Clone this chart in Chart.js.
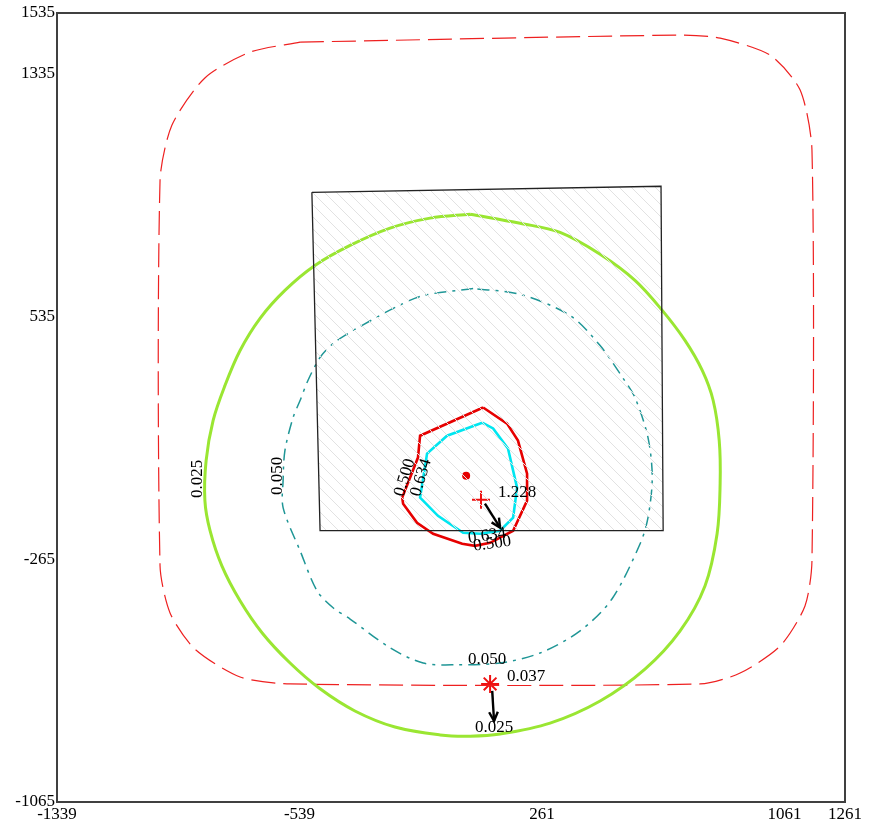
<!DOCTYPE html>
<html>
<head>
<meta charset="utf-8">
<script src="https://cdn.jsdelivr.net/npm/chart.js@4/dist/chart.umd.min.js"></script>
<style>
  html, body { margin: 0; padding: 0; background: #fff; }
  #wrap { width: 870px; height: 825px; position: relative; }
</style>
</head>
<body>
<div id="wrap"><canvas id="c" width="870" height="825"></canvas></div>
<script>
// Axis ticks (metres)
const xTicks = [-1339, -539, 261, 1061, 1261];
const yTicks = [-1065, -265, 535, 1335, 1535];

// Building footprint
const buildingOutline = [[-498, 944], [654, 964], [661, -171], [-471, -171], [-498, 944]];

// Concentration isolines
const iso0025 = [[24,872],[-108,859],[-240,826],[-372,769],[-488,703],[-587,621],[-669,529],[-735,423],[-785,307],[-824,192],[-847,60],[-851,-72],[-834,-171],[-795,-287],[-735,-402],[-662,-508],[-570,-607],[-471,-692],[-356,-765],[-224,-818],[-75,-844],[24,-848],[123,-841],[288,-805],[453,-732],[601,-627],[717,-501],[799,-353],[839,-181],[849,-16],[846,126],[826,258],[790,357],[733,456],[658,555],[568,654],[453,740],[321,812],[189,842],[24,872]];
const iso0050 = [[34,627],[-131,604],[-217,568],[-339,502],[-379,479],[-428,446],[-471,400],[-511,324],[-537,258],[-560,202],[-587,93],[-593,-6],[-593,-95],[-537,-237],[-481,-369],[-428,-425],[-372,-462],[-240,-557],[-131,-607],[-19,-613],[123,-607],[255,-574],[387,-501],[492,-396],[585,-214],[611,-128],[625,4],[611,136],[568,268],[529,331],[453,439],[354,538],[189,608],[34,627]];
const iso0500 = [[67,235],[-141,142],[-148,70],[-200,-62],[-197,-82],[-151,-145],[-98,-181],[-2,-214],[40,-221],[90,-211],[166,-171],[212,-72],[212,17],[182,126],[146,182],[67,235]];
const iso0634 = [[64,185],[-52,142],[-118,83],[-141,-62],[-82,-122],[1,-178],[57,-181],[123,-171],[166,-128],[179,-29],[149,100],[100,166],[64,185]];

// Sanitary protection zone boundary
const zoneBoundary = [[-537,1439],[717,1462],[849,1452],[1014,1396],[1113,1281],[1152,1083],[1152,-270],[1129,-419],[1047,-551],[915,-640],[783,-676],[-570,-676],[-735,-653],[-884,-561],[-966,-442],[-999,-287],[-999,984],[-960,1165],[-851,1321],[-702,1406],[-537,1439]];

// Source position
const sourceX = [11];
const sourceY = [10];

// Maximum points and their values
const maxX = [60, 90];
const maxY = [-69, -676];
const maxValue = [1.228, 0.037];

// Wind direction arrows: start and end
const arrowX0 = [73, 97];
const arrowY0 = [-82, -699];
const arrowX1 = [123, 103];
const arrowY1 = [-161, -798];

// Isoline labels
const labelText = ['0.025', '0.050', '0.500', '0.634', '0.634', '0.500', '0.050', '0.025'];
const labelX = [-874, -613, -191, -138, 80, 97, 80, 103];
const labelY = [0, 10, 4, 4, -188, -214, -594, -821];
const labelAngle = [-90, -90, -73, -73, -8, -8, 0, 0];

const pts = a => a.map(p => ({ x: p[0], y: p[1] }));

function hatchPattern() {
  const s = 12;
  const c = document.createElement('canvas');
  c.width = s; c.height = s;
  const g = c.getContext('2d');
  g.strokeStyle = '#e2e2e2';
  g.lineWidth = 1;
  g.beginPath();
  g.moveTo(0, 0); g.lineTo(s, s);
  g.moveTo(-1, s - 1); g.lineTo(1, s + 1);
  g.moveTo(s - 1, -1); g.lineTo(s + 1, 1);
  g.stroke();
  return g.createPattern(c, 'repeat');
}

const serif = '"Liberation Serif", "Times New Roman", serif';

const overlay = {
  id: 'overlay',
  afterDatasetsDraw(chart) {
    const ctx = chart.ctx;
    const xs = chart.scales.x, ys = chart.scales.y;
    const a = chart.chartArea;
    ctx.save();
    // arrows
    ctx.strokeStyle = '#000';
    for (let i = 0; i < arrowX0.length; i++) {
      const x0 = xs.getPixelForValue(arrowX0[i]), y0 = ys.getPixelForValue(arrowY0[i]);
      const x1 = xs.getPixelForValue(arrowX1[i]), y1 = ys.getPixelForValue(arrowY1[i]);
      const ang = Math.atan2(y1 - y0, x1 - x0);
      ctx.lineWidth = 2.4;
      ctx.beginPath(); ctx.moveTo(x0, y0); ctx.lineTo(x1, y1); ctx.stroke();
      const h = 10, w = 0.45;
      ctx.beginPath();
      ctx.moveTo(x1 - h * Math.cos(ang - w), y1 - h * Math.sin(ang - w));
      ctx.lineTo(x1, y1);
      ctx.lineTo(x1 - h * Math.cos(ang + w), y1 - h * Math.sin(ang + w));
      ctx.stroke();
    }
    // isoline labels
    ctx.fillStyle = '#000';
    ctx.font = '17px ' + serif;
    ctx.textAlign = 'center';
    ctx.textBaseline = 'middle';
    for (let i = 0; i < labelText.length; i++) {
      const px = xs.getPixelForValue(labelX[i]), py = ys.getPixelForValue(labelY[i]);
      ctx.save();
      ctx.translate(px, py);
      ctx.rotate(labelAngle[i] * Math.PI / 180);
      ctx.fillText(labelText[i], 0, 0);
      ctx.restore();
    }
    // maximum value labels
    ctx.textAlign = 'left';
    for (let i = 0; i < maxX.length; i++) {
      const px = xs.getPixelForValue(maxX[i]), py = ys.getPixelForValue(maxY[i]);
      ctx.fillText(maxValue[i].toFixed(3), px + 17, py - 7);
    }
    // frame
    ctx.strokeStyle = '#404040';
    ctx.lineWidth = 2;
    ctx.strokeRect(a.left, a.top, a.right - a.left, a.bottom - a.top);
    ctx.restore();
  }
};

const whiteBg = {
  id: 'whiteBg',
  beforeDraw(chart) {
    const ctx = chart.ctx;
    ctx.save();
    ctx.fillStyle = '#fff';
    ctx.fillRect(0, 0, chart.width, chart.height);
    ctx.restore();
  }
};

const line = (data, color, width, extra) => Object.assign({
  data: pts(data), showLine: true, borderColor: color, borderWidth: width,
  pointRadius: 0, pointHoverRadius: 0, fill: false, tension: 0
}, extra || {});

new Chart(document.getElementById('c'), {
  type: 'scatter',
  data: {
    datasets: [
      line(buildingOutline, '#222', 1.3, { fill: 'shape', backgroundColor: hatchPattern() }),
      line(iso0025, '#9ae632', 3, { tension: 0.35 }),
      line(iso0050, '#1f9696', 1.5, { tension: 0.3, borderDash: [12, 6, 3, 6] }),
      line(zoneBoundary, '#ee2020', 1.2, { tension: 0.25, borderDash: [24, 8] }),
      line(iso0500, '#e60000', 2.6),
      line(iso0634, '#00e6f0', 2.6),
      { data: sourceX.map((x, i) => ({ x, y: sourceY[i] })), pointRadius: 4, pointStyle: 'circle',
        backgroundColor: '#e60000', borderColor: '#e60000', borderWidth: 0, showLine: false },
      { data: maxX.map((x, i) => ({ x, y: maxY[i] })), pointRadius: 9, pointStyle: ['cross', 'star'],
        borderColor: '#ee1111', borderWidth: 2, showLine: false }
    ]
  },
  options: {
    responsive: false,
    animation: false,
    events: [],
    layout: { padding: { left: 0, top: 13, right: 25, bottom: 0 } },
    plugins: { legend: { display: false }, tooltip: { enabled: false }, title: { display: false } },
    scales: {
      x: {
        type: 'linear', min: -1339, max: 1261,
        afterBuildTicks: s => { s.ticks = xTicks.map(v => ({ value: v })); },
        afterFit: s => { s.height = 23; },
        grid: { display: false, drawTicks: false },
        border: { display: false },
        ticks: { color: '#000', font: { family: serif, size: 17 }, padding: 2, maxRotation: 0, autoSkip: false,
                 callback: v => String(v) }
      },
      y: {
        type: 'linear', min: -1065, max: 1535,
        afterBuildTicks: s => { s.ticks = yTicks.map(v => ({ value: v })); },
        afterFit: s => { s.width = 57; },
        grid: { display: false, drawTicks: false },
        border: { display: false },
        ticks: { color: '#000', font: { family: serif, size: 17 }, padding: 2, autoSkip: false,
                 callback: v => String(v) }
      }
    }
  },
  plugins: [whiteBg, overlay]
});
</script>
</body>
</html>
